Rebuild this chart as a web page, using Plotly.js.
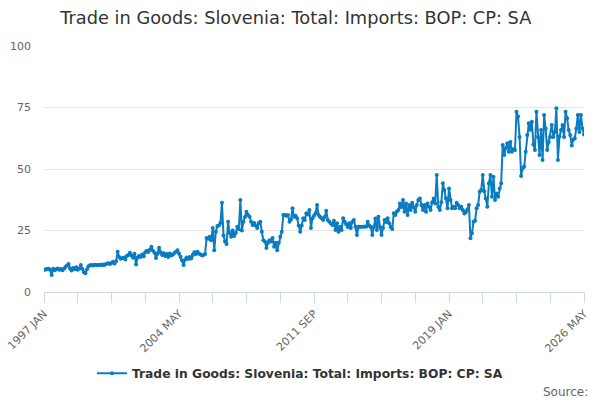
<!DOCTYPE html>
<html>
<head>
<meta charset="utf-8">
<script src="https://cdn.plot.ly/plotly-3.0.1.min.js"></script>
<style>html,body{margin:0;padding:0;background:#fff;}#chart{width:600px;height:400px;}</style>
</head>
<body>
<div id="chart"></div>
<script>
var seriesName = "Trade in Goods: Slovenia: Total: Imports: BOP: CP: SA";
var startYear = 1997;
var monthNames = ["JAN","FEB","MAR","APR","MAY","JUN","JUL","AUG","SEP","OCT","NOV","DEC"];
var tickLabels = ["1997 JAN","2004 MAY","2011 SEP","2019 JAN","2026 MAY"];

var v1997 = [9.2, 9.0, 9.3, 9.5, 9.0, 6.9, 9.5, 8.8, 9.2, 9.6, 9.0, 9.4];
var v1998 = [8.8, 9.5, 10.2, 10.8, 11.4, 9.6, 8.7, 9.8, 9.2, 10.1, 9.0, 9.6];
var v1999 = [11.0, 9.4, 8.0, 7.6, 9.2, 10.5, 10.9, 11.0, 10.8, 11.1, 11.0, 10.9];
var v2000 = [11.1, 11.0, 11.2, 10.9, 11.3, 11.5, 11.7, 11.4, 11.8, 12.3, 11.6, 12.5];
var v2001 = [16.4, 14.2, 13.5, 13.8, 14.0, 13.2, 14.6, 15.0, 16.0, 14.8, 13.9, 15.5];
var v2002 = [11.2, 14.0, 14.6, 14.2, 15.2, 14.5, 16.2, 16.8, 16.3, 17.2, 18.4, 16.8];
var v2003 = [16.0, 13.8, 15.5, 18.0, 16.2, 15.0, 15.8, 14.6, 15.4, 14.2, 15.6, 14.8];
var v2004 = [15.2, 15.9, 16.4, 17.0, 15.6, 14.3, 12.8, 11.0, 13.2, 14.0, 13.4, 14.2];
var v2005 = [13.6, 15.0, 16.2, 15.4, 16.4, 15.6, 15.2, 14.8, 15.0, 15.4, 22.0, 21.6];
var v2006 = [22.5, 21.0, 26.0, 17.0, 24.5, 26.8, 27.0, 28.0, 36.3, 23.0, 20.5, 19.5];
var v2007 = [28.6, 24.0, 22.5, 25.0, 22.8, 24.0, 26.5, 25.5, 37.4, 25.0, 28.6, 30.5];
var v2008 = [32.6, 31.3, 30.6, 28.6, 27.2, 28.0, 27.0, 26.0, 28.0, 28.6, 24.5, 21.0];
var v2009 = [20.5, 17.9, 20.0, 21.0, 20.5, 22.0, 18.4, 20.0, 17.0, 20.0, 22.5, 24.5];
var v2010 = [31.3, 31.3, 31.0, 31.3, 28.6, 29.5, 34.0, 30.6, 31.0, 30.0, 27.0, 24.5];
var v2011 = [27.0, 30.0, 29.3, 32.0, 31.5, 33.3, 26.0, 30.0, 31.0, 32.0, 35.4, 31.3];
var v2012 = [30.5, 30.0, 29.3, 30.5, 33.0, 29.3, 28.6, 27.8, 27.2, 29.0, 25.2, 27.9];
var v2013 = [24.5, 26.5, 25.2, 30.0, 28.6, 27.5, 26.4, 27.9, 26.0, 28.6, 29.3, 26.5];
var v2014 = [23.2, 26.5, 26.5, 26.5, 26.5, 26.6, 26.5, 28.6, 27.0, 26.4, 23.2, 26.4];
var v2015 = [29.9, 25.2, 30.6, 26.4, 23.2, 26.0, 29.3, 28.5, 30.0, 27.9, 26.4, 25.6];
var v2016 = [32.0, 31.3, 32.6, 33.3, 36.0, 34.5, 37.4, 32.6, 36.0, 31.3, 35.4, 33.3];
var v2017 = [36.3, 34.5, 32.6, 35.4, 37.4, 38.0, 35.4, 33.3, 35.4, 32.6, 36.0, 34.7];
var v2018 = [33.3, 36.5, 38.0, 36.0, 47.6, 34.7, 33.3, 36.5, 44.2, 41.5, 38.1, 34.0];
var v2019 = [42.1, 37.4, 34.0, 34.7, 34.0, 36.3, 35.4, 34.0, 34.7, 33.3, 31.9, 32.5];
var v2020 = [33.5, 35.4, 21.8, 24.0, 28.6, 29.0, 34.0, 35.4, 40.8, 41.5, 47.6, 41.0];
var v2021 = [38.0, 34.7, 44.2, 47.6, 38.7, 46.9, 37.4, 40.0, 38.7, 42.1, 44.2, 59.8];
var v2022 = [55.7, 58.5, 60.5, 57.0, 61.0, 57.0, 58.0, 57.7, 73.3, 71.3, 63.0, 47.2];
var v2023 = [50.3, 51.0, 57.0, 63.8, 68.6, 66.0, 69.2, 60.0, 57.7, 73.3, 63.0, 55.7];
var v2024 = [65.9, 53.7, 72.0, 66.5, 57.7, 61.0, 63.0, 67.9, 63.0, 65.0, 74.7, 53.7];
var v2025 = [63.2, 65.9, 67.9, 63.0, 73.3, 70.6, 65.9, 63.8, 59.6, 62.0, 62.5, 66.5];
var v2026 = [72.0, 65.0, 72.0, 66.5, 64.0];

var values = [].concat(v1997, v1998, v1999, v2000, v2001, v2002, v2003, v2004, v2005,
  v2006, v2007, v2008, v2009, v2010, v2011, v2012, v2013, v2014, v2015, v2016,
  v2017, v2018, v2019, v2020, v2021, v2022, v2023, v2024, v2025, v2026);

var categories = [];
for (var k = 0; k < values.length; k++) {
  categories.push((startYear + Math.floor(k / 12)) + " " + monthNames[k % 12]);
}

var tickVals = [], tickText = [];
for (var t = 0; t < categories.length; t += 22) {
  tickVals.push(categories[t]);
  tickText.push(tickLabels.indexOf(categories[t]) >= 0 ? categories[t] : "");
}

var trace = {
  x: categories,
  y: values,
  type: "scatter",
  mode: "lines+markers",
  name: seriesName,
  line: {color: "#0a7cc1", width: 2},
  marker: {color: "#0a7cc1", size: 4}
};

var layout = {
  width: 600, height: 400,
  margin: {l: 44, r: 16, t: 46, b: 108},
  paper_bgcolor: "#fff", plot_bgcolor: "#fff",
  font: {family: "DejaVu Sans, sans-serif", color: "#666"},
  title: {text: seriesName, x: 0.493, xanchor: "center", y: 0.955, yanchor: "middle", yref: "container",
          font: {size: 17.8, color: "#333", family: "DejaVu Sans, sans-serif"}},
  xaxis: {
    type: "category",
    range: [0, categories.length - 1],
    tickmode: "array", tickvals: tickVals, ticktext: tickText,
    tickangle: -45, ticks: "outside", ticklen: 10, tickcolor: "#ccd6eb", tickwidth: 1,
    showline: true, linecolor: "#ccd6eb", linewidth: 1,
    showgrid: false, zeroline: false,
    tickfont: {size: 11, color: "#666"}
  },
  yaxis: {
    range: [0, 100], tickvals: [0, 25, 50, 75, 100],
    showgrid: true, gridcolor: "#e6e6e6", zeroline: false, showline: false,
    tickfont: {size: 11, color: "#666"}, ticks: "", ticklabelstandoff: 12
  },
  showlegend: true,
  legend: {orientation: "h", x: 0.474, xanchor: "center", y: -0.33, yanchor: "middle", itemwidth: 30,
           font: {size: 12.3, color: "#333", family: "DejaVu Sans, sans-serif", weight: "bold"}},
  annotations: [{text: "Source:", xref: "paper", yref: "paper", x: 1.011, y: -0.405,
                 xanchor: "right", yanchor: "middle", showarrow: false,
                 font: {size: 12, color: "#666"}}]
};

Plotly.newPlot("chart", [trace], layout, {displayModeBar: false, staticPlot: true});
</script>
</body>
</html>
